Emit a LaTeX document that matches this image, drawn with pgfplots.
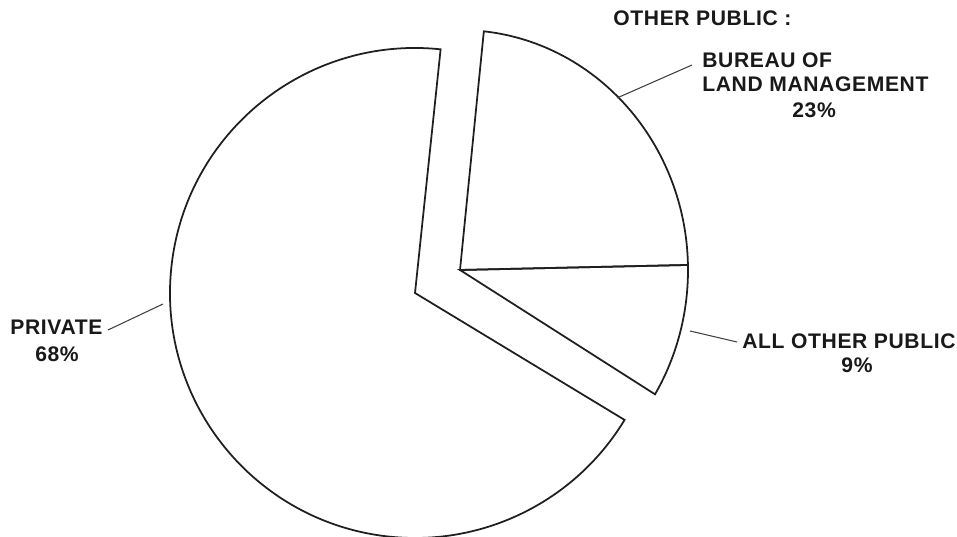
\documentclass[border=0pt]{standalone}
\usepackage{pgfplots}
\pgfplotsset{compat=1.18}
\usepackage{pgfplotstable}
\usepackage{fontspec}
\setmainfont{Liberation Sans}[BoldFont={Liberation Sans Bold}, LetterSpace=3]

% land ownership shares, percent
\pgfplotstableread{
name    value
blm     23
private 68
other   9
}\shares

\begin{document}
\begin{tikzpicture}
\pgfplotstablegetelem{0}{value}\of\shares \let\vB\pgfplotsretval
\pgfplotstablegetelem{1}{value}\of\shares \let\vP\pgfplotsretval
\pgfplotstablegetelem{2}{value}\of\shares \let\vO\pgfplotsretval
\pgfmathsetmacro\aA{1.2}
\pgfmathsetmacro\aB{\aA+3.6*\vB}
\pgfmathsetmacro\aC{\aB+3.6*\vP}
\pgfmathsetmacro\aD{\aC+3.6*\vO}
\begin{axis}[
    scale only axis,
    width=19.14cm, height=10.74cm,
    xmin=0, xmax=957, ymin=0, ymax=537,
    hide axis,
  ]
  % private slice
  \draw[line width=1pt, black!88] (axis cs:415,244)
    -- (axis cs:{415+245*cos(\aB)},{244+245*sin(\aB)})
    arc[start angle=\aB, end angle=\aC, radius=4.9cm] -- cycle;
  % exploded: bureau of land management
  \draw[line width=1pt, black!88] (axis cs:460,267)
    -- (axis cs:{460+228*cos(\aA)},{267+240*sin(\aA)})
    arc[start angle=\aA, end angle=\aB, x radius=4.56cm, y radius=4.8cm] -- cycle;
  % exploded: all other public
  \draw[line width=1pt, black!88] (axis cs:460,267)
    -- (axis cs:{460+228*cos(\aC)},{267+240*sin(\aC)})
    arc[start angle=\aC, end angle=\aD, x radius=4.56cm, y radius=4.8cm] -- cycle;

  % leader lines
  \draw[line width=0.6pt, black!75] (axis cs:108,207) -- (axis cs:163,233);
  \draw[line width=0.6pt, black!75] (axis cs:617,439) -- (axis cs:692,472);
  \draw[line width=0.6pt, black!75] (axis cs:690,206) -- (axis cs:737,195);

  % labels
  \begin{scope}[every node/.style={inner sep=0pt, text=black!90}]
  \node[anchor=base west] at (axis cs:613,511) {\fontsize{12}{14}\selectfont\bfseries OTHER PUBLIC :};
  \node[anchor=base west] at (axis cs:702,469) {\fontsize{12}{14}\selectfont\bfseries BUREAU OF};
  \node[anchor=base west] at (axis cs:702,445) {\fontsize{12}{14}\selectfont\bfseries LAND MANAGEMENT};
  \node[anchor=base] at (axis cs:814,419) {\fontsize{12}{14}\selectfont\bfseries \vB\%};
  \node[anchor=base west] at (axis cs:742,188) {\fontsize{12}{14}\selectfont\bfseries ALL OTHER PUBLIC};
  \node[anchor=base] at (axis cs:857,164) {\fontsize{12}{14}\selectfont\bfseries \vO\%};
  \node[anchor=base west] at (axis cs:10,202) {\fontsize{12}{14}\selectfont\bfseries PRIVATE};
  \node[anchor=base] at (axis cs:57,175) {\fontsize{12}{14}\selectfont\bfseries \vP\%};
  \end{scope}
\end{axis}
\pgfresetboundingbox
\path (0,0) rectangle (19.14cm,10.74cm);
\end{tikzpicture}
\end{document}
